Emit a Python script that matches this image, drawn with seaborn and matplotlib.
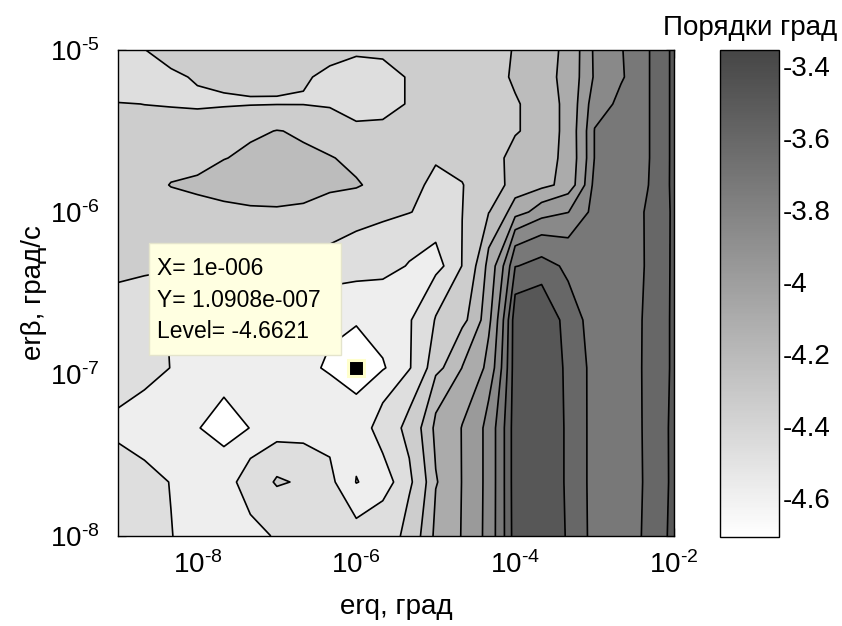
import numpy as np
import matplotlib
matplotlib.use("Agg")
import matplotlib.pyplot as plt
import seaborn as sns
from matplotlib.patches import Rectangle
from matplotlib.colors import Normalize
from matplotlib.cm import ScalarMappable
from matplotlib.ticker import (FixedLocator, NullLocator, LogLocator, FuncFormatter)

# sample points of the error grid
erq_vals = [1e-9, 2.154e-9, 4.642e-9, 1e-8, 2.154e-8, 4.642e-8, 1e-7, 2.154e-7,
            4.642e-7, 1e-6, 2.154e-6, 4.642e-6, 1e-5, 2.154e-5, 4.642e-5, 1e-4,
            2.154e-4, 4.642e-4, 1e-3, 2.154e-3, 4.642e-3, 1e-2]
erb_vals = [1e-8, 2.154e-8, 4.642e-8, 1.0908e-7, 2.154e-7, 4.642e-7, 1e-6,
            1.468e-6, 2.154e-6, 3.162e-6, 4.642e-6, 6.81e-6, 1e-5]

# order of magnitude of the angular error, one row per erβ value (bottom to top)
row_00 = [-4.40, -4.42, -4.46, -4.50, -4.52, -4.49, -4.45, -4.42, -4.41, -4.42, -4.40,
          -4.294, -4.06, -3.9625, -3.796, -3.407, -3.355, -3.50, -3.655, -3.66, -3.575, -3.43]
row_01 = [-4.42, -4.44, -4.465, -4.52, -4.50, -4.40, -4.325, -4.36, -4.44, -4.59, -4.51,
          -4.36, -4.10, -3.965, -3.80, -3.40, -3.36, -3.51, -3.655, -3.665, -3.58, -3.44]
row_02 = [-4.485, -4.51, -4.54, -4.58, -4.65, -4.58, -4.53, -4.52, -4.50, -4.52, -4.40,
          -4.30, -4.06, -3.965, -3.80, -3.40, -3.36, -3.51, -3.655, -3.67, -3.575, -3.44]
row_03 = [-4.39, -4.42, -4.465, -4.50, -4.49, -4.54, -4.55, -4.565, -4.60, -4.6621, -4.595,
          -4.47, -4.25, -4.09, -3.93, -3.40, -3.36, -3.52, -3.65, -3.665, -3.575, -3.45]
row_04 = [-4.40, -4.43, -4.47, -4.49, -4.51, -4.52, -4.53, -4.54, -4.56, -4.57, -4.53,
          -4.47, -4.33, -4.25, -4.00, -3.40, -3.37, -3.55, -3.66, -3.67, -3.575, -3.45]
row_05 = [-4.30, -4.31, -4.32, -4.32, -4.32, -4.33, -4.345, -4.36, -4.38, -4.40, -4.43,
          -4.47, -4.50, -4.335, -4.05, -3.605, -3.56, -3.63, -3.68, -3.68, -3.585, -3.45]
row_06 = [-4.31, -4.30, -4.28, -4.24, -4.23, -4.225, -4.225, -4.23, -4.25, -4.29, -4.31,
          -4.335, -4.39, -4.34, -4.22, -4.02, -3.90, -3.85, -3.668, -3.65, -3.59, -3.45]
row_07 = [-4.30, -4.26, -4.21, -4.20, -4.19, -4.18, -4.17, -4.18, -4.20, -4.205, -4.27,
          -4.32, -4.36, -4.342, -4.26, -4.175, -4.125, -4.04, -3.68, -3.66, -3.605, -3.44]
row_08 = [-4.31, -4.30, -4.28, -4.25, -4.218, -4.20, -4.19, -4.20, -4.21, -4.25, -4.31,
          -4.32, -4.33, -4.31, -4.25, -4.18, -4.14, -4.05, -3.72, -3.68, -3.61, -3.44]
row_09 = [-4.32, -4.31, -4.30, -4.28, -4.26, -4.23, -4.213, -4.23, -4.28, -4.32, -4.32,
          -4.31, -4.29, -4.27, -4.245, -4.225, -4.16, -4.046, -3.72, -3.68, -3.61, -3.44]
row_10 = [-4.335, -4.34, -4.345, -4.355, -4.35, -4.345, -4.342, -4.342, -4.35, -4.38, -4.37,
          -4.33, -4.30, -4.28, -4.25, -4.225, -4.16, -4.046, -3.765, -3.697, -3.61, -3.44]
row_11 = [-4.42, -4.41, -4.35, -4.33, -4.32, -4.32, -4.33, -4.335, -4.35, -4.39, -4.37,
          -4.33, -4.30, -4.28, -4.25, -4.20, -4.14, -4.04, -3.83, -3.735, -3.61, -3.44]
row_12 = [-4.40, -4.34, -4.31, -4.30, -4.29, -4.29, -4.30, -4.31, -4.32, -4.32, -4.32,
          -4.30, -4.29, -4.28, -4.26, -4.206, -4.15, -4.047, -3.824, -3.73, -3.61, -3.44]

contour_levels = [-4.585, -4.462, -4.339, -4.216, -4.093, -3.970, -3.847, -3.724,
                  -3.601, -3.478]
color_limits = (-4.708, -3.355)
cbar_ticks = [-4.6, -4.4, -4.2, -4.0, -3.8, -3.6, -3.4]

# data cursor position
tip_erq = 1e-6
tip_erb = 1.0908e-7

sns.set_theme(style="ticks")
plt.rcParams.update({
    "font.family": ["Liberation Sans", "DejaVu Sans"],
    "mathtext.fontset": "custom",
    "mathtext.rm": "Liberation Sans",
    "mathtext.it": "Liberation Sans:italic",
    "mathtext.bf": "Liberation Sans:bold",
    "axes.unicode_minus": False,
    "font.size": 20,
    "axes.linewidth": 1.0,
    "axes.edgecolor": "black",
    "axes.labelcolor": "black",
    "text.color": "black",
    "xtick.color": "black",
    "ytick.color": "black",
    "xtick.direction": "in",
    "ytick.direction": "in",
    "xtick.top": True,
    "ytick.right": True,
    "xtick.major.size": 5.5,
    "ytick.major.size": 5.5,
    "xtick.minor.size": 3,
    "ytick.minor.size": 3,
    "xtick.major.width": 0.9,
    "ytick.major.width": 0.9,
    "xtick.minor.width": 0.8,
    "ytick.minor.width": 0.8,
})

Z = np.array([row_00, row_01, row_02, row_03, row_04, row_05, row_06,
              row_07, row_08, row_09, row_10, row_11, row_12])
X, Y = np.meshgrid(erq_vals, erb_vals)

cmap = sns.blend_palette(["#ffffff", "#464646"], n_colors=256, as_cmap=True)
norm = Normalize(vmin=color_limits[0], vmax=color_limits[1])

fig = plt.figure(figsize=(8.42, 6.26), dpi=100)
ax = fig.add_axes([118 / 842, 90 / 626, 556 / 842, 486 / 626])
ax.set_xscale("log")
ax.set_yscale("log")

# filled bands, each painted with the colour of its lower bound
band_edges = [color_limits[0]] + contour_levels + [color_limits[1]]
band_colors = [cmap(norm(v)) for v in band_edges[:-1]]
ax.contourf(X, Y, Z, levels=band_edges, colors=band_colors)
ax.contour(X, Y, Z, levels=contour_levels, colors="black",
           linewidths=1.2, linestyles="solid")

ax.set_xlim(1e-9, 1e-2)
ax.set_ylim(1e-8, 1e-5)


def pow10_label(v, pos):
    e = int(round(np.log10(v)))
    if e < 0:
        return r"$\mathdefault{10^{\text{-}%d}}$" % (-e)
    return r"$\mathdefault{10^{%d}}$" % e


ax.xaxis.set_major_locator(FixedLocator([1e-8, 1e-6, 1e-4, 1e-2]))
ax.xaxis.set_minor_locator(NullLocator())
ax.xaxis.set_major_formatter(FuncFormatter(pow10_label))
ax.yaxis.set_major_locator(LogLocator(base=10, numticks=10))
ax.yaxis.set_minor_locator(LogLocator(base=10, subs=np.arange(2, 10), numticks=10))
ax.yaxis.set_major_formatter(FuncFormatter(pow10_label))
ax.tick_params(axis="x", which="major", pad=11, labelsize=20)
ax.tick_params(axis="y", which="major", pad=13, labelsize=20)
for s in ax.spines.values():
    s.set_visible(True)
    s.set_linewidth(1.0)

ax.set_xlabel("erq, град", fontsize=20, labelpad=11)
ax.set_ylabel("erβ, град/с", fontsize=20)
ax.yaxis.set_label_coords(-0.128, 0.5)

# data cursor: marker and its info box
iy = erb_vals.index(tip_erb)
ix = erq_vals.index(tip_erq)
tip_level = Z[iy, ix]


def matlab_num(v):
    s = "%g" % v
    if "e" in s:
        mant, exp = s.split("e")
        s = "%se%s%03d" % (mant, exp[0], int(exp[1:]))
    return s


ax.plot([tip_erq], [tip_erb], marker="s", ms=12, mfc="black",
        mec="#ffffcc", mew=2.2, zorder=6, clip_on=False)
ax.add_patch(Rectangle((0.0558, 0.3724), 0.3453, 0.2305, transform=ax.transAxes,
                       facecolor="#ffffe1", edgecolor="#e4e4cc", lw=1.0, zorder=7))
tip_lines = ["X= " + matlab_num(tip_erq),
             "Y= " + matlab_num(tip_erb),
             "Level= %.4f" % tip_level]
for txt, yb in zip(tip_lines, [0.537, 0.4712, 0.4074]):
    ax.text(0.0701, yb, txt, transform=ax.transAxes, fontsize=16.5,
            va="baseline", ha="left", zorder=8)

# colour bar with the continuous grey scale
cax = fig.add_axes([720 / 842, 89 / 626, 59 / 842, 487 / 626])
sm = ScalarMappable(norm=norm, cmap=cmap)
cb = fig.colorbar(sm, cax=cax, ticks=cbar_ticks)
cb.ax.yaxis.set_major_formatter(FuncFormatter(lambda v, p: "%g" % round(v, 2)))
cax.minorticks_off()
cax.tick_params(which="major", direction="in", left=True, right=True,
                length=5.5, width=0.9, pad=3, labelsize=20)
cb.outline.set_linewidth(1.0)
cb.outline.set_edgecolor("black")
fig.text(837 / 842, 1 - 35 / 626, "Порядки град", ha="right", va="baseline",
         fontsize=20)

fig.savefig("out.png", dpi=100)
